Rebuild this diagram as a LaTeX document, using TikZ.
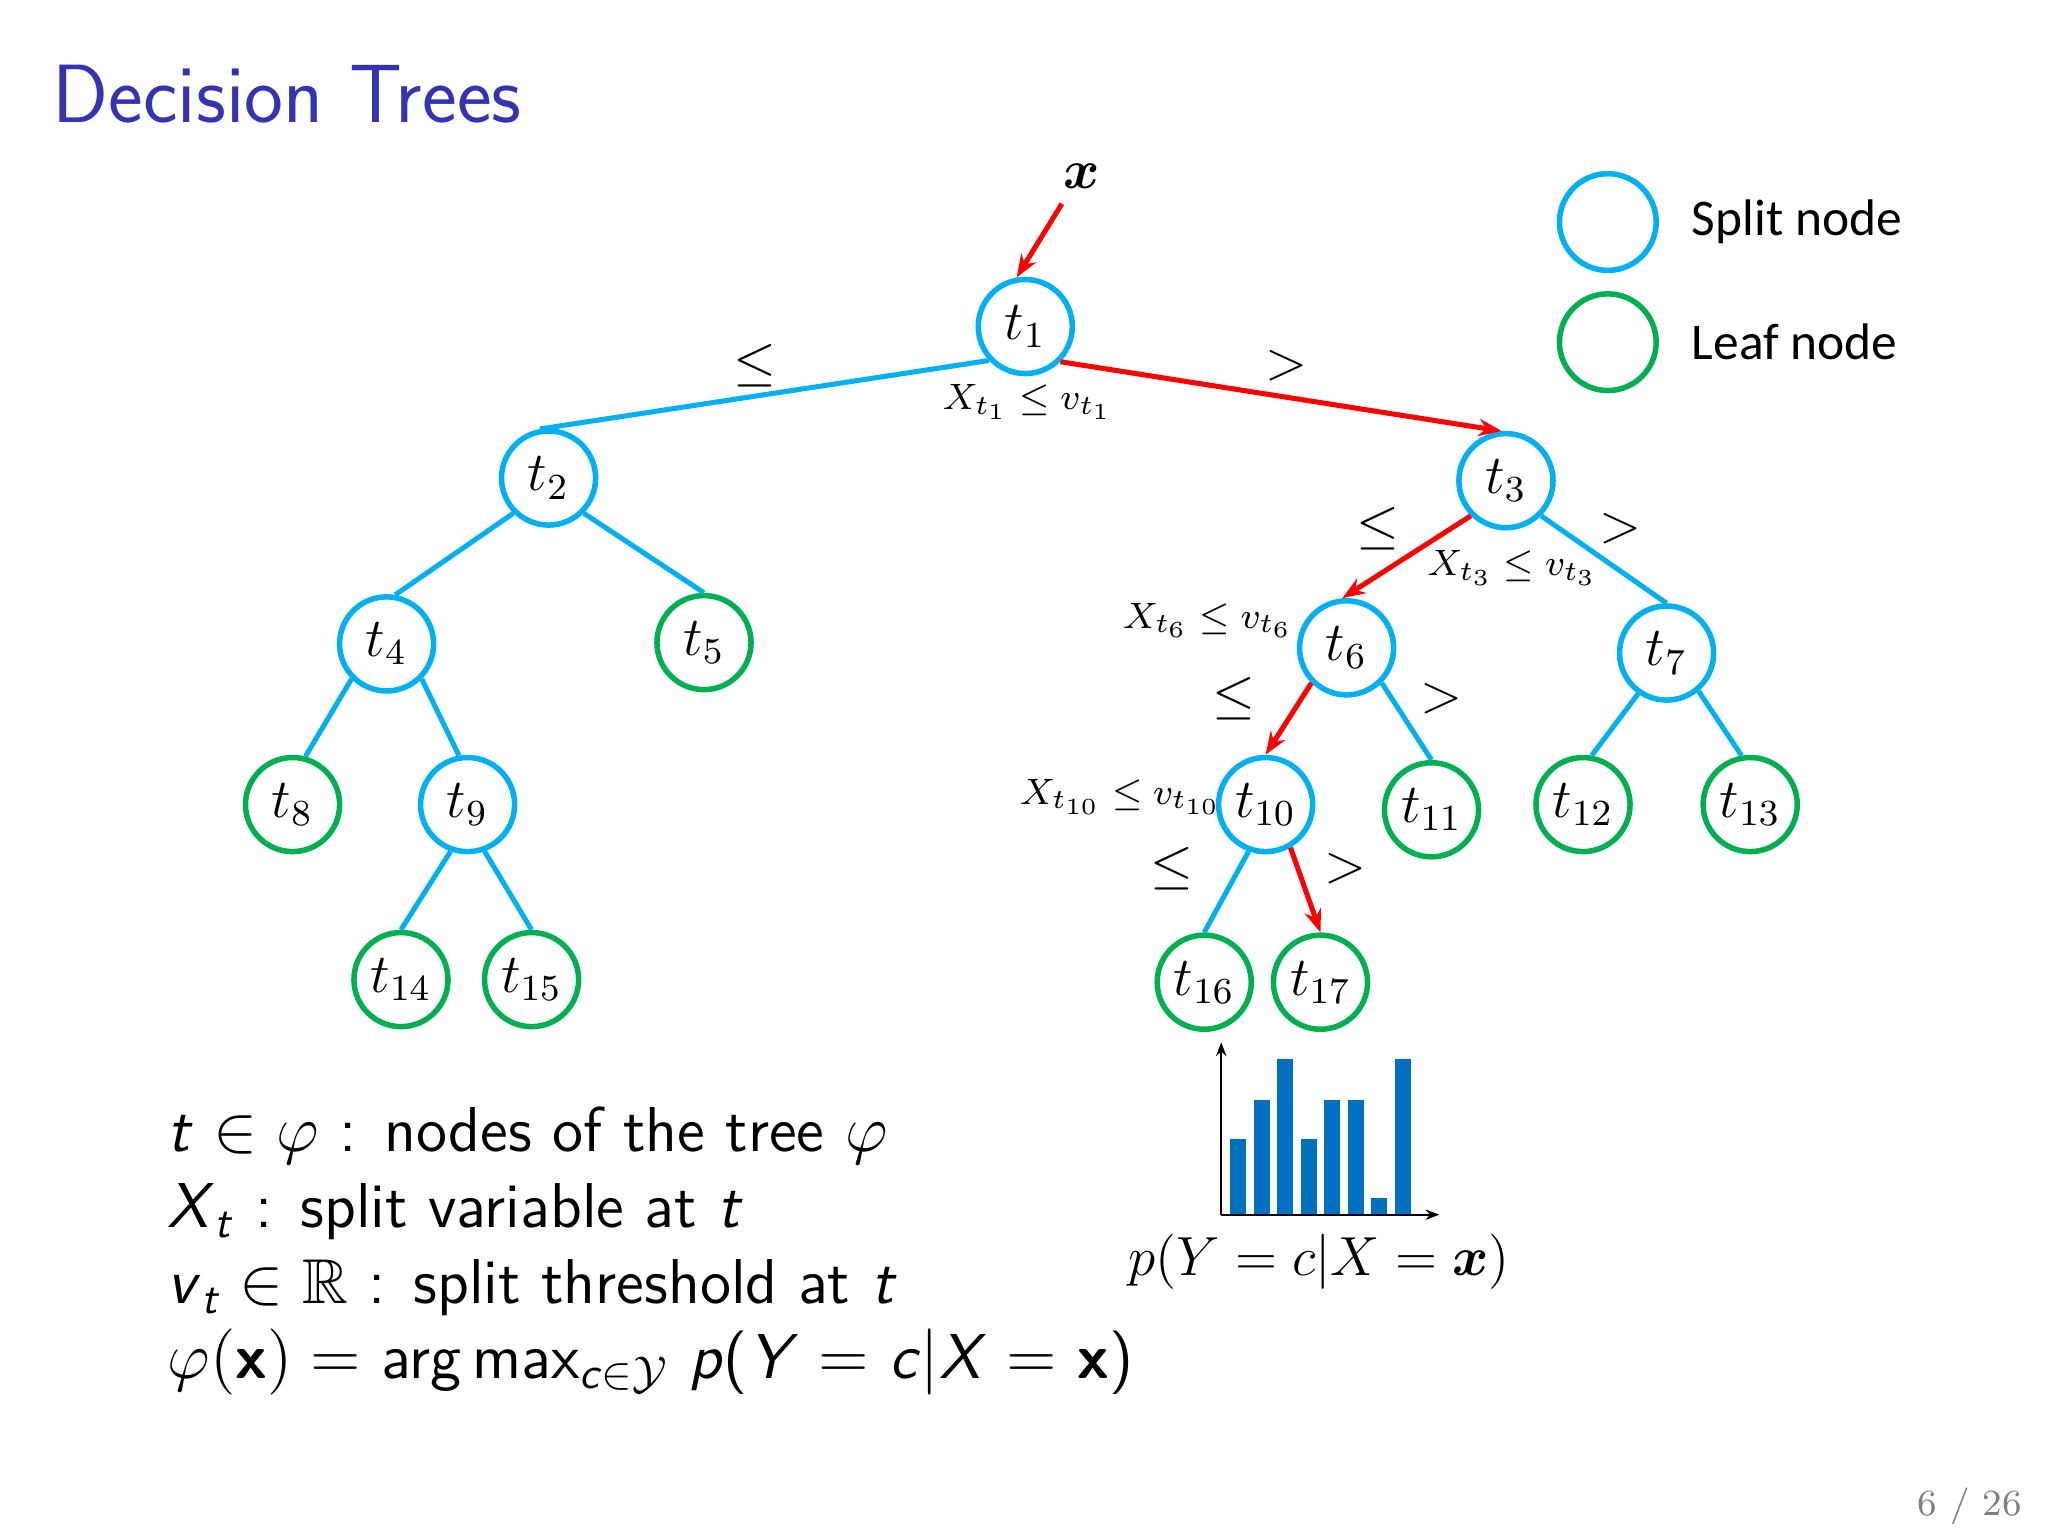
\documentclass[tikz,border=0pt]{standalone}
\usepackage{fontspec}
\usepackage{amsmath,amssymb}
\newfontfamily\carlito{Carlito}
\usetikzlibrary{arrows.meta}
\definecolor{sblue}{RGB}{0,176,240}
\definecolor{lgreen}{RGB}{0,176,80}
\definecolor{ttl}{RGB}{51,51,179}
\definecolor{barc}{RGB}{0,112,192}
\newcommand{\si}[1]{\textsf{\itshape #1}}
\tikzset{
 split/.style={circle,draw=sblue,line width=1.2pt,minimum size=0.72cm,inner sep=0pt,fill=white,font=\fontsize{12}{14}\selectfont},
 leaf/.style={split,draw=lgreen},
 be/.style={draw=sblue,line width=1.1pt},
 re/.style={draw=red,line width=1.1pt,-{Stealth[length=5pt]}},
 lab/.style={font=\fontsize{12}{14}\selectfont},
 sm/.style={font=\fontsize{8}{10}\selectfont}
}
\begin{document}
\begin{tikzpicture}[x=0.01cm,y=-0.01cm]
\useasboundingbox (0,0) rectangle (1568,1176);
\node[anchor=west,text=ttl,font=\sffamily\fontsize{18}{20}\selectfont] (title) at (28,72) {Decision Trees};
\node[split] (t1) at (785,250) {$t_1$};
\node[split] (t2) at (420,366) {$t_2$};
\node[split] (t3) at (1153,368) {$t_3$};
\node[split] (t4) at (296,493) {$t_4$};
\node[leaf] (t5) at (539,492) {$t_5$};
\node[split] (t6) at (1031,496) {$t_6$};
\node[split] (t7) at (1276,500) {$t_7$};
\node[leaf] (t8) at (224,616) {$t_8$};
\node[split] (t9) at (358,616) {$t_9$};
\node[split] (t10) at (969,616) {$t_{10}$};
\node[leaf] (t11) at (1096,620) {$t_{11}$};
\node[leaf] (t12) at (1212,616) {$t_{12}$};
\node[leaf] (t13) at (1340,616) {$t_{13}$};
\node[leaf] (t14) at (307,750) {$t_{14}$};
\node[leaf] (t15) at (407,750) {$t_{15}$};
\node[leaf] (t16) at (922,752) {$t_{16}$};
\node[leaf] (t17) at (1011,752) {$t_{17}$};
\node[lab] (x) at (828,135) {$\boldsymbol{x}$};
\coordinate (xs) at (813,156);
\draw[re] (xs) -- (t1.100);
\draw[be] (t1.223) -- (t2.100);
\draw[re] (t1.315) -- (t3.95);
\draw[be] (t2.225) -- (t4.80); \draw[be] (t2.315) -- (t5.90);
\draw[re] (t3.225) -- (t6.95); \draw[be] (t3.315) -- (t7.90);
\draw[be] (t4.225) -- (t8.75); \draw[be] (t4.315) -- (t9.100);
\draw[re] (t6.225) -- (t10.90); \draw[be] (t6.315) -- (t11.90);
\draw[be] (t7.235) -- (t12.80); \draw[be] (t7.310) -- (t13.100);
\draw[be] (t9.250) -- (t14.90); \draw[be] (t9.290) -- (t15.90);
\draw[be] (t10.250) -- (t16.90); \draw[re] (t10.300) -- (t17.90);
\node[lab] (l1) at (578,280) {$\le$};
\node[lab] (g1) at (985,280) {$>$};
\node[sm] (s1) at (787,308) {$X_{t_1}\le v_{t_1}$};
\node[lab] (l3) at (1055,405) {$\le$};
\node[lab] (g3) at (1241,405) {$>$};
\node[sm] (s3) at (1158,435) {$X_{t_3}\le v_{t_3}$};
\node[sm] (s6) at (925,475) {$X_{t_6}\le v_{t_6}$};
\node[lab] (l6) at (945,535) {$\le$};
\node[lab] (g6) at (1104,535) {$>$};
\node[sm] (s10) at (858,610) {$X_{t_{10}}\le v_{t_{10}}$};
\node[lab] (l10) at (897,665) {$\le$};
\node[lab] (g10) at (1030,665) {$>$};
\node[split,minimum size=0.74cm] (lg1) at (1231,170) {};
\node[leaf,minimum size=0.74cm] (lg2) at (1231,262) {};
\node[anchor=west,font=\carlito\fontsize{11.2}{14}\selectfont] (lt1) at (1283,170) {Split node};
\node[anchor=west,font=\carlito\fontsize{11.2}{14}\selectfont] (lt2) at (1283,262) {Leaf node};
\foreach \x/\h in {948/872,966/842,984/811,1002/872,1020/842,1038/842,1056/917,1074/811}
  \fill[barc] (\x-6,930) rectangle (\x+6,\h);
\draw[-{Stealth[length=3pt]},line width=0.5pt] (935,930) -- (935,798);
\draw[-{Stealth[length=3pt]},line width=0.5pt] (935,930) -- (1102,930);
\node[lab] (py) at (1010,966) {$p(Y=c|X=\boldsymbol{x})$};
\node[anchor=west,font=\sffamily\fontsize{13.8}{16.5}\selectfont,align=left] (desc) at (116,958) {%
\si{t} $\in\varphi$ : nodes of the tree $\varphi$\\
\si{X}$_{\text{\si{t}}}$ : split variable at \si{t}\\
\si{v}$_{\text{\si{t}}}\in\mathbb{R}$ : split threshold at \si{t}\\
$\varphi($\textbf{x}$)=$ arg\,max$_{\text{\si{c}}\in\mathcal{Y}}$ \si{p}(\si{Y} $=$ \si{c}$|$\si{X} $=$ \textbf{x})};
\node[text=gray,font=\fontsize{8}{10}\selectfont] (pg) at (1508,1153) {6 / 26};
\end{tikzpicture}
\end{document}
